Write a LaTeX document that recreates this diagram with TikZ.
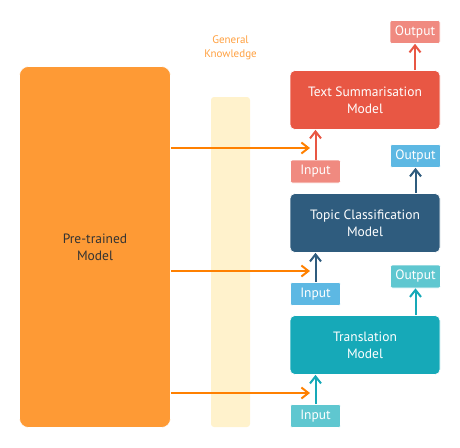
\documentclass[tikz,border=0pt]{standalone}
\usepackage{fontspec}
\setmainfont{PT Sans}
\usetikzlibrary{arrows.meta}
\definecolor{ptorange}{HTML}{FE9A35}
\definecolor{strip}{HTML}{FFF2CC}
\definecolor{arrorange}{HTML}{FF8000}
\definecolor{lblorange}{HTML}{FFA040}
\definecolor{redM}{HTML}{E85744}
\definecolor{redL}{HTML}{F08A80}
\definecolor{blueM}{HTML}{2F5C7E}
\definecolor{blueL}{HTML}{5DB8E3}
\definecolor{tealM}{HTML}{16A9B8}
\definecolor{tealL}{HTML}{5FC7D0}
\tikzset{
  box/.style={rounded corners=3pt, draw=white, line width=0.6pt, inner sep=0pt, text=white, align=center, font=\fontsize{13.5}{17}\selectfont},
  model/.style={box, rounded corners=5pt, minimum width=150pt, minimum height=59pt},
  iobox/.style={box, rounded corners=2pt, minimum width=50pt, minimum height=23pt},
  kin/.style={arrorange, line width=2pt, -{Straight Barb[length=7pt,width=11pt,line width=2pt]}},
  vin/.style={line width=2pt, -{Straight Barb[length=7pt,width=11pt,line width=2pt]}}
}
\begin{document}
\begin{tikzpicture}[x=1pt,y=-1pt]
\useasboundingbox (0,0) rectangle (460,447);
% pretrained
\node[box, rounded corners=9pt, fill=ptorange, minimum width=151pt, minimum height=361pt, text=black!80] (pt) at (95,247) {Pre-trained\\Model};
% strip
\node[box, rounded corners=3pt, fill=strip, draw=none, minimum width=39pt, minimum height=330pt] (gk) at (230.5,262) {};
\node[align=center, text=lblorange, font=\fontsize{11}{14}\selectfont] (gkl) at (230.5,48) {General\\Knowledge};
% models
\node[model, fill=redM] (tsm) at (365,100) {Text Summarisation\\Model};
\node[model, fill=blueM] (tcm) at (365,223) {Topic Classification\\Model};
\node[model, fill=tealM] (trm) at (365,345) {Translation\\Model};
% io
\node[iobox, fill=redL] (o1) at (415,32) {Output};
\node[iobox, fill=redL] (i1) at (315.5,171.5) {Input};
\node[iobox, fill=blueL] (o2) at (415.5,156) {Output};
\node[iobox, fill=blueL] (i2) at (315.5,294) {Input};
\node[iobox, fill=tealL] (o3) at (415.5,276.5) {Output};
\node[iobox, fill=tealL] (i3) at (315.5,416) {Input};
% vertical arrows
\draw[vin, redM] (i1.north) -- (tsm.south -| i1.north);
\draw[vin, redM] (tsm.north -| o1.south) -- (o1.south);
\draw[vin, blueM] (i2.north) -- (tcm.south -| i2.north);
\draw[vin, blueM] (tcm.north -| o2.south) -- (o2.south);
\draw[vin, tealM] (i3.north) -- (trm.south -| i3.north);
\draw[vin, tealM] (trm.north -| o3.south) -- (o3.south);
% knowledge transfer
\coordinate (e1) at (310,148);
\coordinate (e2) at (310,271);
\coordinate (e3) at (310,393);
\draw[kin] (pt.east |- e1) -- (e1);
\draw[kin] (pt.east |- e2) -- (e2);
\draw[kin] (pt.east |- e3) -- (e3);
\end{tikzpicture}
\end{document}
